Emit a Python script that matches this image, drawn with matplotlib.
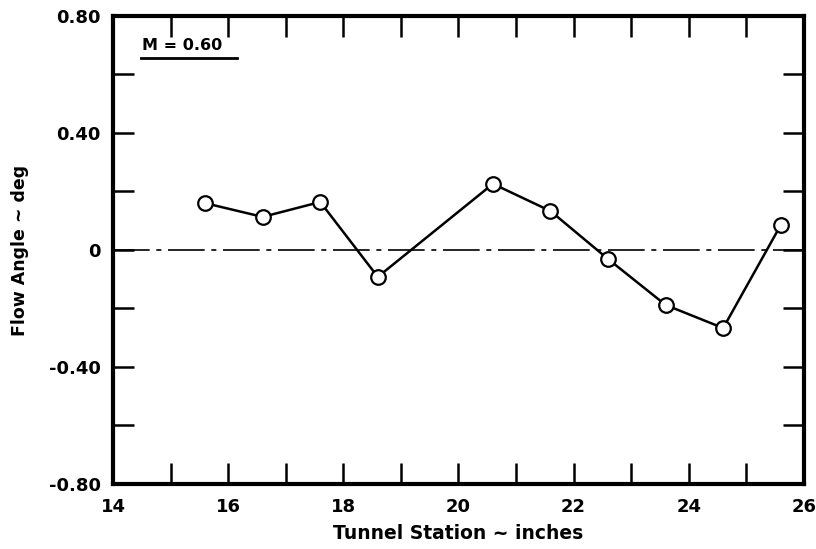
import matplotlib
matplotlib.use("Agg")
import matplotlib.pyplot as plt
from matplotlib.ticker import MultipleLocator, FixedLocator
import numpy as np

# Data
station = [15.6, 16.6, 17.6, 18.6, 20.6, 21.6, 22.6, 23.6, 24.6, 25.6]
flow_angle = [0.16, 0.113, 0.164, -0.092, 0.226, 0.133, -0.031, -0.188, -0.267, 0.085]
x_ticks = [14, 16, 18, 20, 22, 24, 26]
x_labels = ["14", "16", "18", "20", "22", "24", "26"]
y_ticks = [-0.80, -0.40, 0.0, 0.40, 0.80]
y_labels = ["-0.80", "-0.40", "0", "0.40", "0.80"]
mach_label = "M = 0.60"

plt.rcParams['font.family'] = ['DejaVu Sans']
fig = plt.figure(figsize=(8.16, 5.49), dpi=100)
ax = fig.add_axes([0.1385, 0.1184, 0.8465, 0.8526])

ax.axhline(0, color='black', lw=1.2, linestyle=(0, (22, 4, 3, 4)), zorder=1)
ax.plot(station, flow_angle, color='black', lw=1.8, marker='o', markersize=10.5,
        markerfacecolor='white', markeredgecolor='black', markeredgewidth=1.6, zorder=3)

ax.set_xlim(14, 26)
ax.set_ylim(-0.8, 0.8)
ax.xaxis.set_major_locator(FixedLocator(x_ticks))
ax.set_xticklabels(x_labels)
ax.xaxis.set_minor_locator(MultipleLocator(1))
ax.yaxis.set_major_locator(FixedLocator(y_ticks))
ax.set_yticklabels(y_labels)
ax.yaxis.set_minor_locator(MultipleLocator(0.2))

ax.tick_params(which='both', direction='in', top=True, right=True, width=1.8, length=15,
               labelsize=13)
ax.tick_params(axis='x', which='both', pad=10)
ax.tick_params(axis='y', which='both', pad=9)
for lab in ax.get_xticklabels() + ax.get_yticklabels():
    lab.set_fontweight('bold')
for s in ax.spines.values():
    s.set_linewidth(3)

ax.set_xlabel("Tunnel Station ~ inches", fontsize=13.5, fontweight='bold', labelpad=6)
ax.set_ylabel("Flow Angle ~ deg", fontsize=12.5, fontweight='bold', labelpad=14)

ax.text(14.5, 0.684, mach_label, fontsize=11.5, fontweight='bold', ha='left', va='baseline')
ax.plot([14.48, 16.15], [0.655, 0.655], color='black', lw=2, clip_on=False)

fig.savefig("out.png", dpi=100)
